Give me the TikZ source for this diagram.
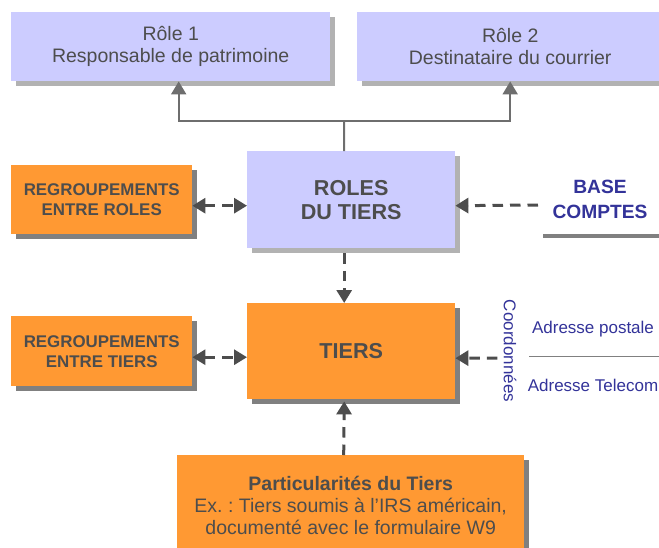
\documentclass[tikz,border=0pt]{standalone}
\usepackage{fontspec}
\setmainfont{Liberation Sans}
\usepackage{tikz}
\usetikzlibrary{positioning,arrows.meta,shadows}
\frenchspacing
\definecolor{rolefill}{HTML}{CCCCFF}
\definecolor{tierfill}{HTML}{FF9933}
\definecolor{txtgray}{HTML}{4D4D4D}
\definecolor{bluetxt}{HTML}{333399}
\definecolor{lightshadow}{HTML}{B2B2B2}
\definecolor{darkshadow}{HTML}{808080}
\definecolor{linegray}{HTML}{6E6E6E}
\tikzset{basic/.style={rectangle,inner sep=0pt,anchor=north west,align=center,text=txtgray}}
\tikzset{rolebox/.style={basic,fill=rolefill,general shadow={fill=lightshadow,shadow xshift=5pt,shadow yshift=-5pt}}}
\tikzset{tierbox/.style={basic,fill=tierfill,general shadow={fill=darkshadow,shadow xshift=5pt,shadow yshift=-5pt}}}
\tikzset{tree/.style={draw=linegray,line width=2pt}}
\tikzset{dasharrow/.style={draw=txtgray,line width=3pt,dash pattern=on 10.5pt off 7pt}}
\tikzset{bluetext/.style={text=bluetxt,font=\fontsize{17}{20}\selectfont}}

\begin{document}
\begin{tikzpicture}[x=1pt,y=-1pt,>={Triangle[width=15pt,length=13pt]}]
    \useasboundingbox (0,0) rectangle (659,547);
        % roles
        \node[rolebox,minimum width=319pt,minimum height=69pt,font=\fontsize{19.5}{22}\selectfont] (role1) at (11,12) {Rôle 1\\Responsable de patrimoine};
        \node[rolebox,minimum width=306pt,minimum height=69pt,font=\fontsize{19.5}{22}\selectfont] (role2) at (357,12) {Rôle 2\\Destinataire du courrier};
        \node[rolebox,minimum width=208pt,minimum height=97pt,font=\bfseries\fontsize{21.6}{24}\selectfont] (roles) at (247,151) {ROLES\\DU TIERS};
        \node[tierbox,minimum width=181pt,minimum height=69pt,font=\bfseries\fontsize{16.9}{20}\selectfont] (grproles) at (11,165) {REGROUPEMENTS\\ENTRE ROLES};
        \node[font=\bfseries\fontsize{19.2}{25}\selectfont,text=bluetxt,align=center] (base) at (600,199) {BASE\\COMPTES};
        \draw[line width=4pt,draw=darkshadow] (543,236) -- (659,236);
        % tiers
        \node[tierbox,minimum width=208pt,minimum height=96pt,font=\bfseries\fontsize{21.6}{24}\selectfont] (tiers) at (247,303) {TIERS};
        \node[tierbox,minimum width=181pt,minimum height=70pt,font=\bfseries\fontsize{16.9}{20}\selectfont] (grptiers) at (11,316) {REGROUPEMENTS\\ENTRE TIERS};
        \node[bluetext,rotate=-90,inner sep=2pt] (coord) at (510,351) {Coordonnées};
        \node[bluetext] (postale) at (593,329) {Adresse postale};
        \node[bluetext] (telecom) at (593,385) {Adresse Telecom};
        \draw[draw=darkshadow,line width=1pt] (529,356) -- (659,356);
        \node[tierbox,minimum width=347pt,minimum height=100pt,font=\fontsize{19.5}{22}\selectfont] (partic) at (177,455) {{\bfseries Particularités du Tiers}\\Ex. : Tiers soumis à l’IRS américain,\\documenté avec le formulaire W9};
        % connectors
        \coordinate (fork) at (344,121);
            \draw[tree] ([xshift=-7pt]roles.north) -- (fork);
            \draw[tree,->] (fork) -| ([xshift=8pt]role1.south);
            \draw[tree,->] (fork) -| (role2.south);
            \path[dasharrow,<->] ([yshift=-6pt]grproles.east) -- ([yshift=-6pt]roles.west);
            \path[dasharrow,->] ([xshift=-11pt,yshift=-6pt]base.west) -- ([yshift=-6pt]roles.east);
            \path[dasharrow,->] ([xshift=-7pt,yshift=-5pt]roles.south) -- ([xshift=-7pt]tiers.north);
            \path[dasharrow,<->] ([yshift=-6pt]grptiers.east) -- ([yshift=-6pt]tiers.west);
            \path[dasharrow,->] ([xshift=-4pt,yshift=-7pt]coord.south) -- ([yshift=-7pt]tiers.east);
            \path[dasharrow,->] ([xshift=-7pt]partic.north) -- ([xshift=-7pt,yshift=-2pt]tiers.south);
    \end{tikzpicture}
\end{document}
